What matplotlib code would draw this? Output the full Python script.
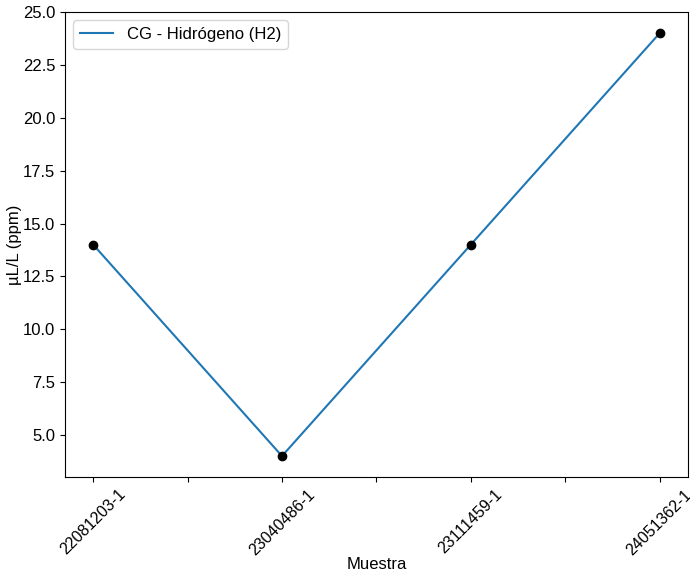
import matplotlib
matplotlib.use("Agg")
import matplotlib.pyplot as plt
import numpy as np

plt.rcParams['font.family'] = ['Liberation Sans', 'DejaVu Sans']
plt.rcParams['font.size'] = 12

samples = ['22081203-1', '23040486-1', '23111459-1', '24051362-1']
values = [14, 4, 14, 24]
series_label = 'CG - Hidrógeno (H2)'

fig, ax = plt.subplots(figsize=(6.9, 5.77), dpi=100)
x = np.arange(len(samples))
ax.plot(x, values, color='#1f77b4', label=series_label)
ax.plot(x, values, 'o', color='black', markersize=6)

ticks = np.arange(0, len(samples) - 1 + 0.01, 0.5)
labels = [samples[int(t)] if float(t).is_integer() else '' for t in ticks]
ax.set_xticks(ticks)
ax.set_xticklabels(labels, rotation=45, fontsize=11.5)
ax.set_xlabel('Muestra')
ax.set_ylabel('µL/L (ppm)')
ax.xaxis.set_label_coords(0.5, -0.172)
ax.yaxis.set_label_coords(-0.068, 0.5)
ax.legend(loc='upper left')
fig.subplots_adjust(left=0.094, right=0.997, top=0.979, bottom=0.173)
fig.savefig('out.png', dpi=100)
